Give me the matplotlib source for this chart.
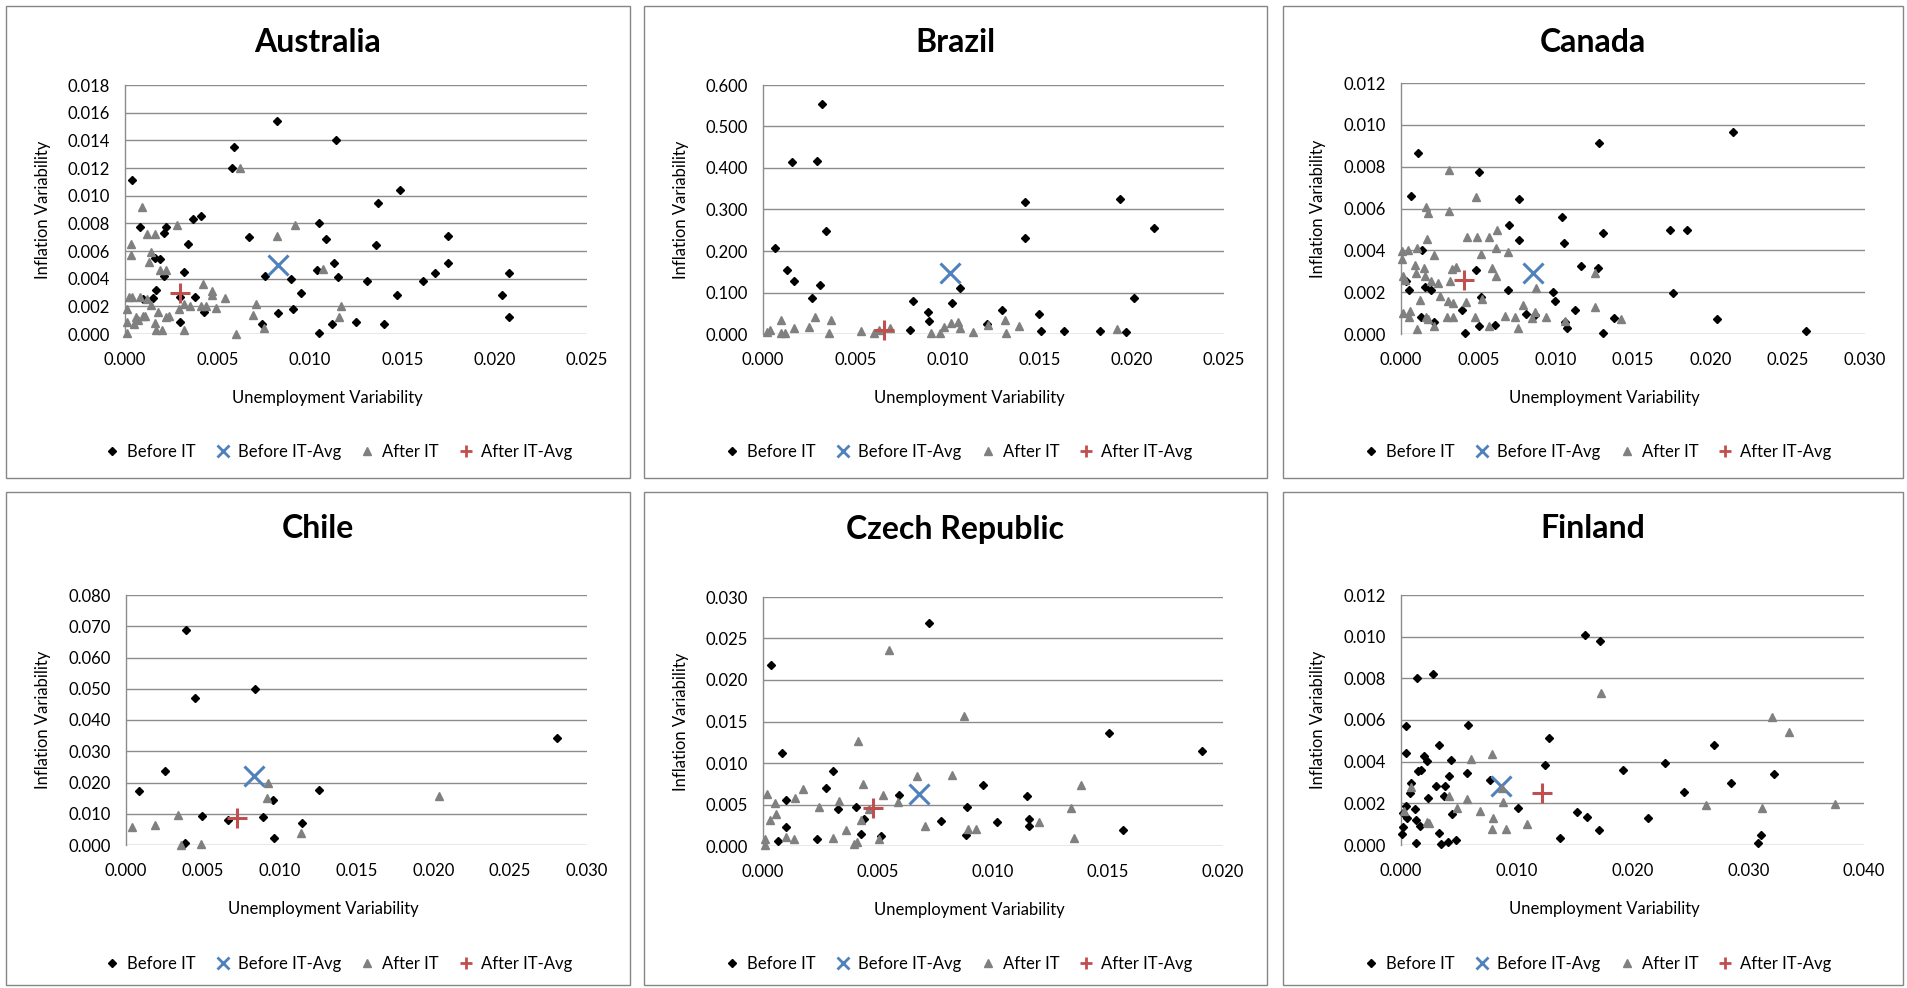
import numpy as np
import matplotlib
matplotlib.use('Agg')
import matplotlib.pyplot as plt
import matplotlib.patches as patches
from matplotlib.lines import Line2D

plt.rcParams['font.family'] = ['Lato', 'DejaVu Sans']

# ---- data (x = unemployment var., y = inflation var.)
aus_before_x = [0.0004, 0.0008, 0.0059, 0.0058, 0.0082, 0.0037, 0.0041, 0.0034, 0.0021, 0.0022,
                0.0067, 0.0016, 0.0019, 0.0021, 0.0032, 0.0017, 0.0010, 0.0015, 0.0030, 0.0038,
                0.0043, 0.0030, 0.0076, 0.0074, 0.0083, 0.0090, 0.0091, 0.0095, 0.0105, 0.0109,
                0.0104, 0.0105, 0.0112, 0.0114, 0.0113, 0.0115, 0.0131, 0.0125, 0.0137, 0.0149,
                0.0136, 0.0147, 0.0140, 0.0161, 0.0168, 0.0175, 0.0175, 0.0204, 0.0208, 0.0208]
aus_before_y = [0.0111, 0.0077, 0.0135, 0.0120, 0.0154, 0.0083, 0.0085, 0.0065, 0.0073, 0.0077,
                0.0070, 0.0055, 0.0054, 0.0042, 0.0045, 0.0032, 0.0025, 0.0026, 0.0027, 0.0027,
                0.0016, 0.0009, 0.0042, 0.0007, 0.0015, 0.0040, 0.0018, 0.0030, 0.0080, 0.0069,
                0.0046, 0.0001, 0.0007, 0.0140, 0.0051, 0.0041, 0.0038, 0.0009, 0.0095, 0.0104,
                0.0064, 0.0028, 0.0007, 0.0038, 0.0044, 0.0051, 0.0071, 0.0028, 0.0044, 0.0012]
aus_after_x = [0.0009, 0.0003, 0.0003, 0.0001, 0.0001, 0.0001, 0.0002, 0.0004, 0.0008, 0.0005,
               0.0006, 0.0007, 0.0010, 0.0011, 0.0012, 0.0016, 0.0014, 0.0013, 0.0012, 0.0014,
               0.0016, 0.0017, 0.0019, 0.0022, 0.0018, 0.0020, 0.0022, 0.0024, 0.0028, 0.0029,
               0.0032, 0.0032, 0.0035, 0.0042, 0.0041, 0.0044, 0.0047, 0.0047, 0.0049, 0.0054,
               0.0060, 0.0062, 0.0071, 0.0069, 0.0075, 0.0082, 0.0092, 0.0107, 0.0117, 0.0116]
aus_after_y = [0.0092, 0.0065, 0.0057, 0.0018, 0.0009, 0.0001, 0.0027, 0.0027, 0.0027, 0.0007,
               0.0012, 0.0010, 0.0013, 0.0013, 0.0072, 0.0072, 0.0059, 0.0052, 0.0025, 0.0021,
               0.0008, 0.0003, 0.0046, 0.0046, 0.0016, 0.0003, 0.0012, 0.0013, 0.0079, 0.0018,
               0.0022, 0.0003, 0.0020, 0.0036, 0.0020, 0.0020, 0.0031, 0.0028, 0.0019, 0.0026,
               0.0000, 0.0120, 0.0022, 0.0014, 0.0004, 0.0071, 0.0079, 0.0047, 0.0020, 0.0012]

bra_before_x = [0.00065, 0.0013, 0.00166, 0.00155, 0.00292, 0.00319, 0.00343, 0.0031, 0.00267,
                0.00812, 0.00798, 0.00897, 0.00899, 0.01025, 0.01067, 0.01422, 0.01422, 0.01935,
                0.02121, 0.02014, 0.01294, 0.01496, 0.01507, 0.01634, 0.0183, 0.01971, 0.01213]
bra_before_y = [0.208, 0.155, 0.127, 0.415, 0.416, 0.554, 0.247, 0.117, 0.087,
                0.080, 0.009, 0.052, 0.031, 0.075, 0.112, 0.317, 0.231, 0.326,
                0.256, 0.086, 0.057, 0.047, 0.007, 0.007, 0.007, 0.005, 0.024]
bra_after_x = [0.0002, 0.0004, 0.0010, 0.0010, 0.0012, 0.0017, 0.0025, 0.0028, 0.0036, 0.0037,
               0.0053, 0.0060, 0.0063, 0.0069, 0.0091, 0.0096, 0.0098, 0.0102, 0.0106, 0.0107,
               0.0114, 0.0122, 0.0131, 0.0132, 0.0139, 0.0192]
bra_after_y = [0.006, 0.010, 0.033, 0.002, 0.002, 0.014, 0.016, 0.041, 0.002, 0.033,
               0.008, 0.002, 0.010, 0.014, 0.002, 0.002, 0.016, 0.027, 0.029, 0.014,
               0.005, 0.022, 0.033, 0.002, 0.020, 0.013]

can_before_x = [0.00108, 0.00065, 0.00502, 0.00765, 0.0070, 0.00763, 0.01039, 0.01054, 0.01164,
                0.00136, 0.00032, 0.00052, 0.00153, 0.00196, 0.00129, 0.00216, 0.00394, 0.00414,
                0.00487, 0.00517, 0.00502, 0.00608, 0.00692, 0.00808, 0.00866, 0.00985, 0.00996,
                0.0106, 0.01075, 0.01127, 0.01282, 0.02147, 0.01308, 0.01737, 0.01849, 0.01276,
                0.01756, 0.01375, 0.02045, 0.01308, 0.02616]
can_before_y = [0.00864, 0.00658, 0.00773, 0.00646, 0.00522, 0.0045, 0.00559, 0.00434, 0.00326,
                0.00402, 0.00255, 0.00211, 0.00227, 0.00208, 0.0008, 0.00059, 0.00115, 0.00006,
                0.00308, 0.00179, 0.00038, 0.00045, 0.00208, 0.00097, 0.00091, 0.00203, 0.0016,
                0.00056, 0.0003, 0.00115, 0.00915, 0.00964, 0.00485, 0.00496, 0.00496, 0.00314,
                0.00198, 0.00078, 0.00072, 0.00006, 0.00016]
can_after_x = [0.00006, 0.00006, 0.00047, 0.00106, 0.00015, 0.00026, 0.00015, 0.0005, 0.00058, 0.0009,
               0.00097, 0.00101, 0.00125, 0.00151, 0.00153, 0.00162, 0.00175, 0.00166, 0.00162, 0.00175,
               0.00213, 0.00194, 0.00241, 0.00211, 0.00254, 0.0031, 0.00313, 0.00317, 0.00332, 0.00353,
               0.00306, 0.00338, 0.00295, 0.00334, 0.0042, 0.00427, 0.00489, 0.00483, 0.00515, 0.00522,
               0.00478, 0.00567, 0.00569, 0.00588, 0.00612, 0.00614, 0.00623, 0.00672, 0.00694, 0.00737,
               0.00756, 0.00791, 0.00849, 0.00866, 0.00875, 0.00938, 0.01063, 0.01256, 0.01254, 0.01425]
can_after_y = [0.00399, 0.0036, 0.00402, 0.00412, 0.00275, 0.00259, 0.00099, 0.00083, 0.00112, 0.0033,
               0.0029, 0.00022, 0.00163, 0.00314, 0.00278, 0.00607, 0.00578, 0.00455, 0.0008, 0.0007,
               0.00378, 0.00255, 0.00246, 0.00038, 0.00182, 0.00782, 0.00586, 0.00251, 0.0031, 0.00322,
               0.0016, 0.00147, 0.00083, 0.0008, 0.00153, 0.00466, 0.00466, 0.00654, 0.00381, 0.00166,
               0.00083, 0.00038, 0.00466, 0.00316, 0.00413, 0.00275, 0.00495, 0.00086, 0.00393, 0.00083,
               0.0003, 0.00139, 0.00075, 0.00107, 0.00219, 0.00083, 0.00064, 0.0029, 0.00131, 0.0007]

chl_before_x = [0.00085, 0.00256, 0.00391, 0.00451, 0.00493, 0.00384, 0.00664, 0.00838, 0.00894,
                0.00957, 0.00964, 0.01144, 0.01259, 0.02804]
chl_before_y = [0.0173, 0.0238, 0.0687, 0.0470, 0.0094, 0.0008, 0.0080, 0.0498, 0.0089,
                0.0144, 0.0024, 0.0072, 0.0176, 0.0341]
chl_after_x = [0.00041, 0.00191, 0.00339, 0.00356, 0.00491, 0.00927, 0.0092, 0.0114, 0.02034]
chl_after_y = [0.0057, 0.0064, 0.0096, 0.0000, 0.0003, 0.0200, 0.0149, 0.0037, 0.0157]

cze_before_x = [0.00036, 0.00084, 0.0010, 0.00101, 0.00065, 0.00234, 0.00304, 0.00275, 0.00324,
                0.00405, 0.00424, 0.00438, 0.00515, 0.00593, 0.00722, 0.00774, 0.00887, 0.00881,
                0.00955, 0.01019, 0.01149, 0.01158, 0.01158, 0.01506, 0.01566, 0.01909]
cze_before_y = [0.0218, 0.0112, 0.0056, 0.0023, 0.0006, 0.0009, 0.0090, 0.0070, 0.0044,
                0.0047, 0.0015, 0.0033, 0.0012, 0.0061, 0.0269, 0.0030, 0.0047, 0.0013,
                0.0073, 0.0029, 0.0060, 0.0033, 0.0024, 0.0136, 0.0019, 0.0114]
cze_after_x = [0.00007, 0.0001, 0.00017, 0.00029, 0.00052, 0.00058, 0.0010, 0.00135, 0.00137,
               0.00174, 0.00242, 0.00305, 0.0033, 0.0036, 0.00397, 0.00408, 0.00412, 0.00427,
               0.00433, 0.0046, 0.00505, 0.00521, 0.00547, 0.00589, 0.0067, 0.00706, 0.00822,
               0.00874, 0.00893, 0.00926, 0.01201, 0.01337, 0.01382, 0.01353]
cze_after_y = [0.0001, 0.0009, 0.0063, 0.0031, 0.0052, 0.0039, 0.0011, 0.0008, 0.0058,
               0.0069, 0.0047, 0.0010, 0.0054, 0.0019, 0.0003, 0.0005, 0.0127, 0.0031,
               0.0075, 0.0045, 0.0008, 0.0062, 0.0236, 0.0053, 0.0084, 0.0024, 0.0086,
               0.0157, 0.0021, 0.0021, 0.0029, 0.0046, 0.0074, 0.0010]

fin_before_x = [0.0004, 0.00046, 0.00135, 0.00279, 0.00576, 0.00328, 0.00199, 0.00227, 0.00429,
                0.0057, 0.00417, 0.00144, 0.00173, 0.00086, 0.00078, 0.0004, 0.0002, 0.00055,
                0.00014, 0.00009, 0.00121, 0.00129, 0.00167, 0.00236, 0.00302, 0.00383, 0.00371,
                0.00437, 0.00331, 0.00342, 0.00403, 0.00478, 0.00129, 0.00768, 0.01013, 0.01243,
                0.01275, 0.01373, 0.01522, 0.01588, 0.01603, 0.01721, 0.01709, 0.01922, 0.02132,
                0.02285, 0.02446, 0.02705, 0.02852, 0.03223, 0.03114, 0.03085]
fin_before_y = [0.00573, 0.00441, 0.00803, 0.0082, 0.00578, 0.00479, 0.00425, 0.00401, 0.00406,
                0.00348, 0.00329, 0.00353, 0.00361, 0.003, 0.00249, 0.00185, 0.00153, 0.00129,
                0.00086, 0.00054, 0.00173, 0.00118, 0.00089, 0.00225, 0.00281, 0.00281, 0.00236,
                0.0015, 0.00058, 0.00005, 0.00013, 0.00026, 0.0001, 0.00313, 0.0018, 0.00385,
                0.00516, 0.00034, 0.0016, 0.01008, 0.00134, 0.00981, 0.00073, 0.00361, 0.00131,
                0.00393, 0.00254, 0.00478, 0.003, 0.00339, 0.00048, 0.00008]
fin_after_x = [0.00026, 0.00083, 0.00224, 0.00239, 0.00417, 0.00481, 0.00567, 0.00604, 0.00679,
               0.00783, 0.00783, 0.00791, 0.00881, 0.00906, 0.01088, 0.00875, 0.0173, 0.03209,
               0.03355, 0.02636, 0.03122, 0.0375]
fin_after_y = [0.00165, 0.00278, 0.0011, 0.00105, 0.00236, 0.00176, 0.00222, 0.00414, 0.00163,
               0.00439, 0.00078, 0.00131, 0.00208, 0.00078, 0.00102, 0.00273, 0.00728, 0.00613,
               0.00543, 0.00193, 0.00177, 0.00198]

# averages: (x, y)
before_avg = {'Australia': (0.00827, 0.00496), 'Brazil': (0.01016, 0.1468),
              'Canada': (0.00856, 0.00294), 'Chile': (0.00834, 0.0221),
              'Czech Republic': (0.00677, 0.0063), 'Finland': (0.00861, 0.00281)}
after_avg = {'Australia': (0.0030, 0.00296), 'Brazil': (0.00657, 0.0104),
             'Canada': (0.00407, 0.00259), 'Chile': (0.00721, 0.0086),
             'Czech Republic': (0.0048, 0.0046), 'Finland': (0.01217, 0.00249)}

legend_labels = ['Before IT', 'Before IT-Avg', 'After IT', 'After IT-Avg']

# ---- layout (pixels in a 1907x988 canvas)
W, H = 1907, 988
fig = plt.figure(figsize=(W / 100, H / 100), dpi=100)

def fx(px):
    return px / W

def fy(py):
    return 1 - py / H

BLACK, GRAY, BLUE, RED = '#000000', '#808080', '#4F81BD', '#C0504D'
GRID = '#8C8C8C'

# name, chart box, plot area, xmax, xstep, ymax, ystep, data, ylabel x, xlabel x
panels = [
    ('Australia', (6, 6, 630, 478), (125, 85, 587, 334), 0.025, 0.005, 0.018, 0.002,
     (aus_before_x, aus_before_y, aus_after_x, aus_after_y), 43, 327),
    ('Brazil', (644, 6, 1267, 478), (763, 85, 1224, 334), 0.025, 0.005, 0.6, 0.1,
     (bra_before_x, bra_before_y, bra_after_x, bra_after_y), 681, 969),
    ('Canada', (1283, 6, 1903, 478), (1401, 83, 1865, 334), 0.030, 0.005, 0.012, 0.002,
     (can_before_x, can_before_y, can_after_x, can_after_y), 1318, 1604),
    ('Chile', (6, 492, 630, 985), (126, 595, 587, 845), 0.030, 0.005, 0.08, 0.01,
     (chl_before_x, chl_before_y, chl_after_x, chl_after_y), 43, 323),
    ('Czech Republic', (644, 492, 1267, 985), (763, 597, 1223, 846), 0.020, 0.005, 0.030, 0.005,
     (cze_before_x, cze_before_y, cze_after_x, cze_after_y), 681, 969),
    ('Finland', (1283, 492, 1903, 985), (1401, 595, 1864, 845), 0.040, 0.010, 0.012, 0.002,
     (fin_before_x, fin_before_y, fin_after_x, fin_after_y), 1318, 1604),
]
legend_x = [338, 958, 1597]

for i, (name, box, area, xmax, xstep, ymax, ystep, data, ylab_x, xlab_x) in enumerate(panels):
    bx0, by0, bx1, by1 = box
    fig.add_artist(patches.Rectangle((fx(bx0), fy(by1)), (bx1 - bx0) / W, (by1 - by0) / H,
                                     transform=fig.transFigure, fill=False,
                                     edgecolor='#868686', linewidth=1))
    l, t, r, b = area
    ax = fig.add_axes([fx(l), fy(b), (r - l) / W, (b - t) / H])
    bxs, bys, axs, ays = data
    ax.plot(bxs, bys, linestyle='none', marker='D', markersize=4.3, color=BLACK,
            clip_on=False, zorder=3)
    ax.plot(*before_avg[name], linestyle='none', marker='x', markersize=14,
            markeredgewidth=2.2, color=BLUE, clip_on=False, zorder=4)
    ax.plot(axs, ays, linestyle='none', marker='^', markersize=5.6, color=GRAY,
            clip_on=False, zorder=5)
    ax.plot(*after_avg[name], linestyle='none', marker='+', markersize=14,
            markeredgewidth=2.2, color=RED, clip_on=False, zorder=6)

    ax.set_xlim(0, xmax)
    ax.set_ylim(0, ymax)
    ax.set_xticks(np.arange(0, xmax + xstep / 2, xstep))
    ax.set_yticks(np.arange(0, ymax + ystep / 2, ystep))
    ax.xaxis.set_major_formatter(matplotlib.ticker.FormatStrFormatter('%.3f'))
    ax.yaxis.set_major_formatter(matplotlib.ticker.FormatStrFormatter('%.3f'))
    ax.tick_params(length=0, labelsize=12, colors='black')
    ax.tick_params(axis='y', pad=11)
    ax.tick_params(axis='x', pad=13)
    ax.yaxis.grid(True, color=GRID, linewidth=1.0)
    ax.set_axisbelow(True)
    for s in ['top', 'right', 'bottom']:
        ax.spines[s].set_visible(False)
    ax.spines['left'].set_color(GRID)
    ax.spines['left'].set_linewidth(1.0)

    cx = (bx0 + bx1) / 2
    fig.text(fx(cx), fy(by0 + 37), name, ha='center', va='center',
             fontsize=23, fontweight='bold')
    fig.text(fx(ylab_x), fy((t + b) / 2), 'Inflation Variability', rotation=90,
             ha='center', va='center', fontsize=12)
    fig.text(fx(xlab_x), fy(b + 64), 'Unemployment Variability', ha='center',
             va='center', fontsize=12)

    handles = [
        Line2D([], [], linestyle='none', marker='D', markersize=4.3, color=BLACK),
        Line2D([], [], linestyle='none', marker='x', markersize=9, markeredgewidth=2, color=BLUE),
        Line2D([], [], linestyle='none', marker='^', markersize=5.6, color=GRAY),
        Line2D([], [], linestyle='none', marker='+', markersize=9, markeredgewidth=2, color=RED),
    ]
    fig.legend(handles, legend_labels, loc='center', ncol=4, frameon=False,
               bbox_to_anchor=(fx(legend_x[i % 3]), fy(by0 + 446 if i < 3 else by0 + 472)),
               fontsize=12, handlelength=1.0, handletextpad=0.4, columnspacing=1.1)

fig.savefig('out.png', dpi=100)
